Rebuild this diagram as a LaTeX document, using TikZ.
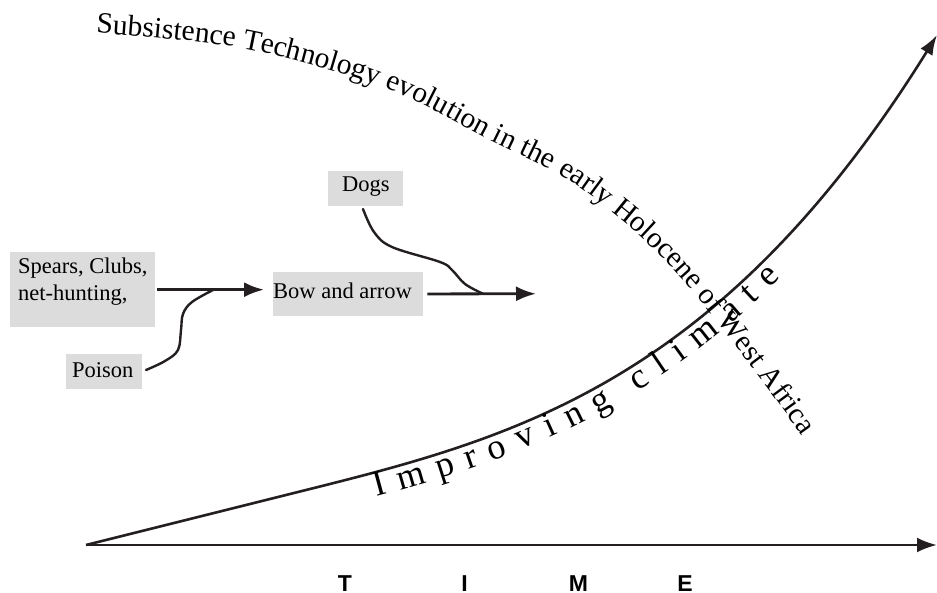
\documentclass[tikz,border=0pt]{standalone}
\usepackage{fontspec}
\setmainfont{Liberation Serif}
\newfontfamily\climfont[WordSpace=1.35]{Liberation Serif}
\newfontfamily\axisfont{Liberation Sans}
\usetikzlibrary{arrows.meta,decorations.text}
\definecolor{ink}{HTML}{231F20}
\definecolor{boxgray}{HTML}{DCDCDC}
\newcommand\titlestyle{\fontsize{29.5}{34}\selectfont}
\newcommand\climstyle{\climfont\fontsize{36}{40}\selectfont}
% height of the climate curve above the time axis
\tikzset{declare function={climh(\t)=0.25*(\t-86)+1.15*(max(0,\t-300)/100)^3;}}
\begin{document}
\begin{tikzpicture}[x=1pt,y=-1pt,
  graybox/.style={fill=boxgray, draw=none, inner sep=0pt, anchor=north west},
  boxtext/.style={inner sep=0pt, anchor=base west, font=\fontsize{22.5}{27}\selectfont},
  axisline/.style={draw=ink, line width=2.8pt},
  curveline/.style={draw=ink, line width=2.6pt},
  link/.style={draw=ink, line width=2.4pt, line join=round, line cap=round},
  bighead/.style={-{Latex[length=20pt,width=15pt]}},
  axislabel/.style={anchor=base, inner sep=0pt, font=\axisfont\bfseries\fontsize{23}{26}\selectfont},
  climcurve/.style={domain=86:937, samples=90, smooth},
]
\useasboundingbox (0,0) rectangle (937,593);

% grey boxes
\node[graybox, minimum width=145pt, minimum height=75pt] (spears) at (10,252) {};
\node[graybox, minimum width=150pt, minimum height=44.5pt] (bow) at (273,271.5) {};
\node[graybox, minimum width=75pt, minimum height=35pt] (dogs) at (328,171) {};
\node[graybox, minimum width=76pt, minimum height=35pt] (poison) at (66,354) {};

% box labels
\node[boxtext] (spearsA) at (18,274) {Spears, Clubs,};
\node[boxtext] (spearsB) at (18,301) {net-hunting,};
\node[boxtext] (bowtext) at (273,299) {Bow and arrow};
\node[boxtext] (dogstext) at (342,192) {Dogs};
\node[boxtext] (poisontext) at (72,378) {Poison};

% arrows between the technologies
\coordinate (join1) at (214,289.5);
\coordinate (a2end) at (536,293.75);
\coordinate (join2) at (483,293.75);
\draw[axisline, bighead, shorten <=2pt, shorten >=9pt] (spears.east) -- (spears.east -| bow.west);
\draw[axisline, bighead, shorten <=4pt] (bow.east) -- (a2end);
\draw[link] plot[smooth, tension=0.6] coordinates {(146,370) (165,361) (178,350) (181,330) (183,314) (192,302) (join1)};
\draw[link] plot[smooth, tension=0.6] coordinates {(363,209) (374,232) (392,247) (440,262) (452,270) (465,284) (join2)};

% time axis
\coordinate (origin) at (86,545);
\coordinate (tend) at (937,545);
\draw[axisline, bighead] (origin) -- (tend);
\node[axislabel] (t1) at (345,591) {T};
\node[axislabel] (t2) at (464.5,591) {I};
\node[axislabel] (t3) at (578.5,591) {M};
\node[axislabel] (t4) at (685,591) {E};

% improving-climate curve
\draw[curveline, -{Latex[length=20pt,width=14pt]}] plot[climcurve] (\x,{545-climh(\x)});
\path[decorate, decoration={text along path, raise=-24pt,
    text={|\climstyle|I m p r o v i n g}, text align={left indent=293pt}}]
  plot[climcurve] (\x,{545-climh(\x)});
\path[decorate, decoration={text along path, raise=-24pt,
    text={|\climstyle|c l i m a t e}, text align={left indent=568pt}}]
  plot[climcurve] (\x,{545-climh(\x)});

% curved title
\path[decorate, decoration={text along path,
    text={|\titlestyle|Subsistence Technology evolution in the early Holocene of West Africa},
    text align=left}]
  plot[smooth, tension=0.6] coordinates {(96,33) (240,48) (385,88) (490,140) (560,175) (612,212) (655,250) (700,300) (760,378) (805,440) (830,478)};
\end{tikzpicture}
\end{document}
